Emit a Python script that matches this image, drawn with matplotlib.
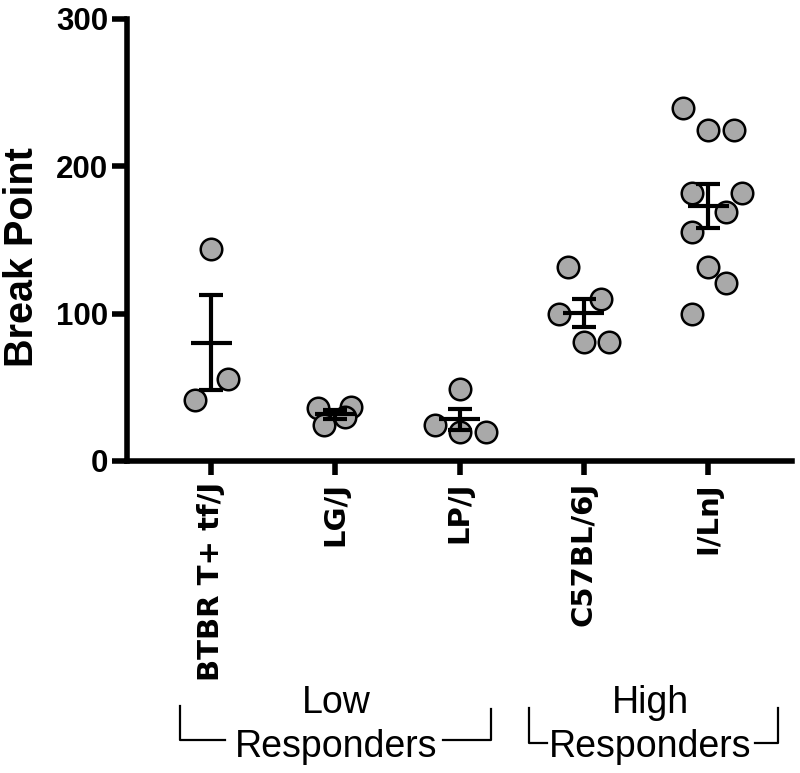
import matplotlib
matplotlib.use("Agg")
import matplotlib.pyplot as plt
from matplotlib.lines import Line2D
import numpy as np

# Strains and break point values
strains = ["BTBR T+ tf/J", "LG/J", "LP/J", "C57BL/6J", "I/LnJ"]
btbr = [144.0, 55.7, 41.4]
lgj = [35.8, 36.5, 24.4, 29.7]
lpj = [49.1, 24.4, 19.5, 19.7]
c57 = [131.6, 109.8, 99.8, 80.8, 80.8]
ilnj = [239.6, 224.7, 224.7, 181.9, 181.9, 169.0, 155.5, 131.6, 120.8, 99.8]
groups = [btbr, lgj, lpj, c57, ilnj]

# horizontal swarm offsets (category units) so circles don't overlap
swarm = [
    [0.0, 0.14, -0.13],
    [-0.14, 0.13, -0.09, 0.08],
    [0.0, -0.2, 0.0, 0.21],
    [-0.13, 0.14, -0.2, 0.0, 0.2],
    [-0.2, 0.0, 0.21, -0.13, 0.27, 0.14, -0.13, 0.0, 0.14, -0.13],
]

y_ticks = [0, 100, 200, 300]

W, H = 800, 773
fig = plt.figure(figsize=(W / 100, H / 100), dpi=100)
ax = fig.add_axes([127 / W, 1 - 461 / H, (792 - 127) / W, (461 - 19) / H])


def px(x, y):
    # pixel position -> figure fraction
    return x / W, 1 - y / H


for i, (vals, dx) in enumerate(zip(groups, swarm)):
    xs = i + np.array(dx)
    ax.plot(xs, vals, "o", ms=15.5, mfc="#a9a9a9", mec="black", mew=1.8,
            zorder=2, clip_on=False)
    v = np.array(vals)
    mean = v.mean()
    sem = v.std(ddof=1) / np.sqrt(len(v))
    ax.errorbar(i, mean, yerr=sem, fmt="none", ecolor="black", elinewidth=3,
                capsize=8.6, capthick=3, zorder=3)
    ax.hlines(mean, i - 0.165, i + 0.165, color="black", lw=3, zorder=3)

ax.set_xlim(-0.676, 4.674)
ax.set_ylim(0, 300)
ax.set_yticks(y_ticks)
ax.set_yticklabels([str(t) for t in y_ticks], fontsize=22.5, fontweight="bold",
                   family="Liberation Sans")
ax.set_xticks(range(len(strains)))
ax.set_xticklabels(strains, rotation=90, fontsize=21, fontweight="bold",
                   family="DejaVu Sans", va="top", ha="center")

for side in ["top", "right"]:
    ax.spines[side].set_visible(False)
for side in ["left", "bottom"]:
    ax.spines[side].set_linewidth(4)
    ax.spines[side].set_capstyle("projecting")
ax.tick_params(axis="y", length=10.5, width=4, pad=3)
ax.tick_params(axis="x", length=10, width=4, pad=5)

fig.text(*px(22, 257), "Break Point", rotation=90, fontsize=28.5,
         fontweight="bold", family="Liberation Sans", ha="center", va="center")

# group brackets below the strain labels
lbl = dict(fontsize=27, family="Liberation Sans", ha="center", va="baseline")
fig.text(*px(336, 713), "Low", **lbl)
fig.text(*px(336, 757), "Responders", **lbl)
fig.text(*px(650, 713), "High", **lbl)
fig.text(*px(650, 757), "Responders", **lbl)

brackets = [
    [(180, 706), (180, 740), (225, 740)],
    [(491, 709), (491, 740), (443, 740)],
    [(529, 708), (529, 743), (547, 743)],
    [(778, 708), (778, 743), (755, 743)],
]
for pts in brackets:
    fx = [px(x, y)[0] for x, y in pts]
    fy = [px(x, y)[1] for x, y in pts]
    fig.add_artist(Line2D(fx, fy, color="black", lw=1.6))

fig.savefig("out.png", dpi=100)
